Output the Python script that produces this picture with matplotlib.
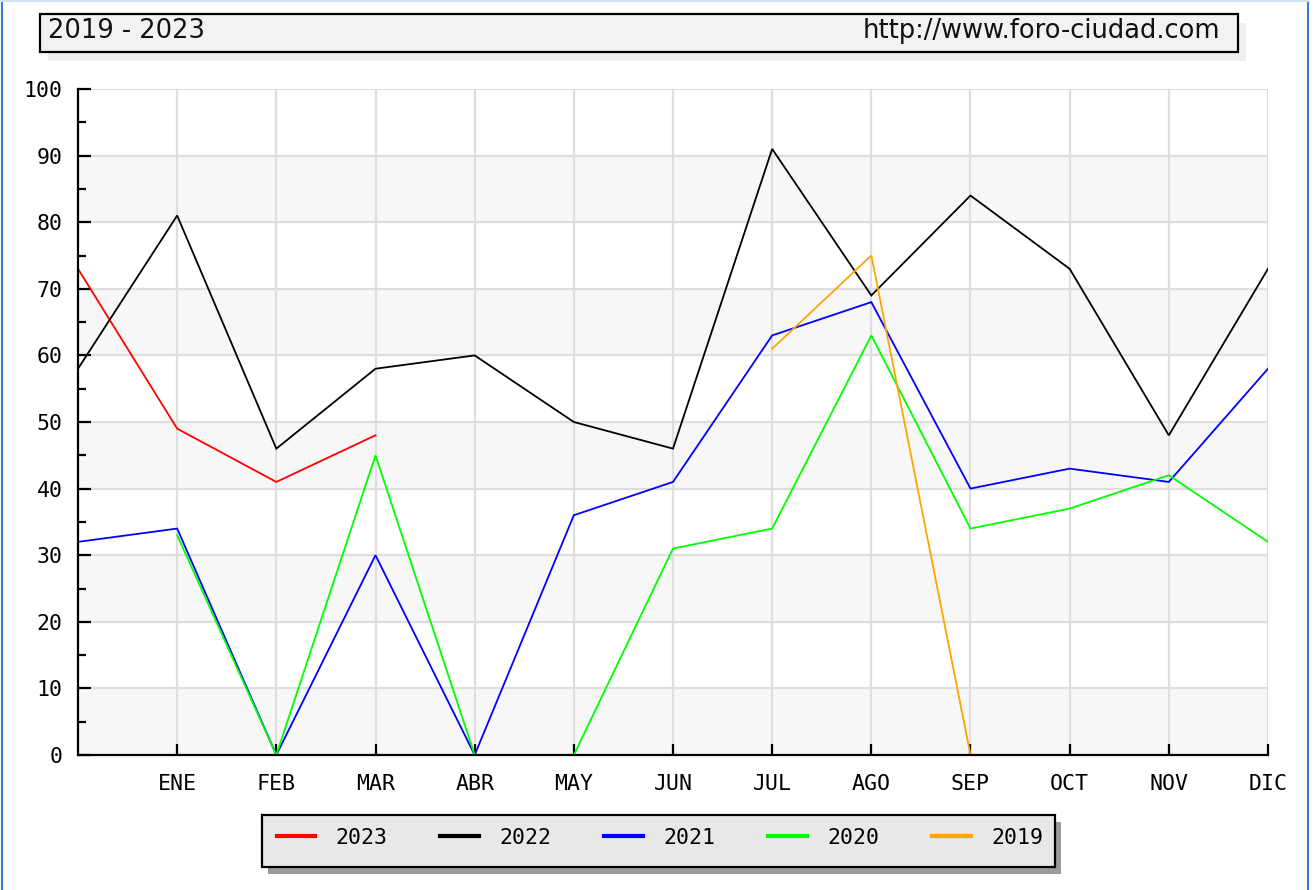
import matplotlib
matplotlib.use("Agg")
import matplotlib.pyplot as plt
from matplotlib.patches import Rectangle
from matplotlib.lines import Line2D
import numpy as np

# Month labels (first position is the starting point with no label)
months = ["", "ENE", "FEB", "MAR", "ABR", "MAY", "JUN",
          "JUL", "AGO", "SEP", "OCT", "NOV", "DIC"]
nan = np.nan

years = ["2023", "2022", "2021", "2020", "2019"]
v2023 = [73, 49, 41, 48, nan, nan, nan, nan, nan, nan, nan, nan, nan]
v2022 = [58, 81, 46, 58, 60, 50, 46, 91, 69, 84, 73, 48, 73]
v2021 = [32, 34, 0, 30, 0, 36, 41, 63, 68, 40, 43, 41, 58]
v2020 = [nan, 33, 0, 45, 0, 0, 31, 34, 63, 34, 37, 42, 32]
v2019 = [nan, nan, nan, nan, nan, nan, nan, 61, 75, 0, nan, nan, nan]
series = [v2023, v2022, v2021, v2020, v2019]
colors = ["#ff0000", "#000000", "#0000ff", "#00ff00", "#ffa500"]

W, H = 1316, 890
fig = plt.figure(figsize=(W / 100, H / 100), dpi=100)
fig.patch.set_facecolor("white")

ax = fig.add_axes([78 / W, 1 - 755 / H, (1268 - 78) / W, (755 - 89) / H])
ax.set_facecolor("white")

# alternating background bands
for lo in range(0, 100, 20):
    ax.axhspan(lo, lo + 10, color="#f7f7f7", zorder=0, lw=0)

x = np.arange(len(months))
for vals, c, yr in zip(series, colors, years):
    ax.plot(x, vals, color=c, lw=1.3, label=yr, zorder=3,
            solid_joinstyle="miter")

ax.set_xlim(0, 12)
ax.set_ylim(0, 100)
ax.set_xticks(x[1:])
ax.set_xticklabels(months[1:])
ax.set_yticks(np.arange(0, 101, 10))
ax.set_yticks(np.arange(5, 100, 10), minor=True)

for xv in x[1:]:
    ax.axvline(xv, color="#dedede", lw=1.6, zorder=1)
for yv in range(10, 101, 10):
    ax.axhline(yv, color="#dedede", lw=1.6, zorder=1)

for s in ["top", "right"]:
    ax.spines[s].set_visible(False)
for s in ["left", "bottom"]:
    ax.spines[s].set_linewidth(1.6)
    ax.spines[s].set_zorder(4)

mono = "DejaVu Sans Mono"
ax.tick_params(axis="y", which="major", direction="in", length=9, width=1.6,
               pad=11, labelsize=15.5)
ax.tick_params(axis="y", which="minor", direction="in", length=6, width=1.6)
ax.tick_params(axis="x", which="major", direction="in", length=8, width=1.6,
               pad=14, labelsize=15.5)
for lab in ax.get_xticklabels() + ax.get_yticklabels():
    lab.set_family(mono)

# header box with shadow
fig.patches.append(Rectangle((48 / W, 1 - 61 / H), 1198 / W, 38 / H,
                             transform=fig.transFigure, facecolor="#eeeeee",
                             edgecolor="none", zorder=0))
fig.patches.append(Rectangle((40 / W, 1 - 52 / H), 1198 / W, 38 / H,
                             transform=fig.transFigure, facecolor="#f2f2f2",
                             edgecolor="black", lw=1.6, zorder=1))
fig.text(48 / W, 1 - 31 / H, "2019 - 2023", fontsize=18.5, va="center",
         ha="left", family="DejaVu Sans", color="#111111")
fig.text(1220 / W, 1 - 31 / H, "http://www.foro-ciudad.com", fontsize=18.5,
         va="center", ha="right", family="DejaVu Sans", color="#111111")

# legend box with shadow
fig.patches.append(Rectangle((268 / W, 1 - 874 / H), 793 / W, 52 / H,
                             transform=fig.transFigure, facecolor="#9a9a9a",
                             edgecolor="none", zorder=0))
fig.patches.append(Rectangle((262 / W, 1 - 867 / H), 793 / W, 52 / H,
                             transform=fig.transFigure, facecolor="#e8e8e8",
                             edgecolor="black", lw=1.6, zorder=1))
handles = [Line2D([0], [0], color=c, lw=3) for c in colors]
leg = fig.legend(handles, years, loc="center", ncol=5,
                 bbox_to_anchor=(660 / W, 1 - 838 / H),
                 frameon=False, handlelength=1.8, handletextpad=0.95,
                 columnspacing=2.45, prop={"family": mono, "size": 15.5})

# outer page border
fig.add_artist(Line2D([2 / W, 2 / W], [0, 1], transform=fig.transFigure,
                      color="#3c78d8", lw=1.5))
fig.add_artist(Line2D([1308 / W, 1308 / W], [0, 1], transform=fig.transFigure,
                      color="#3c78d8", lw=1.5))
fig.add_artist(Line2D([0, 1308 / W], [1 - 1 / H, 1 - 1 / H],
                      transform=fig.transFigure, color="#d0e0f5", lw=1.5))

fig.savefig("out.png", dpi=100)
